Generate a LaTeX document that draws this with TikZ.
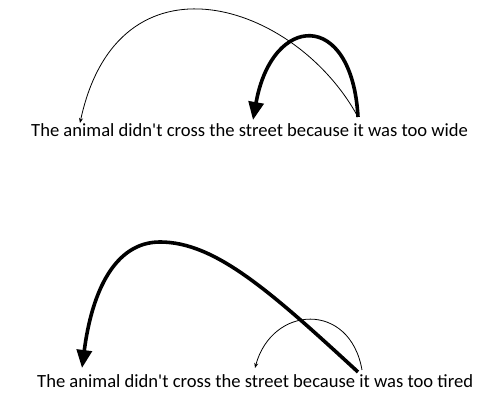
\documentclass[tikz,border=0pt]{standalone}
\usepackage{fontspec}
\setmainfont{Carlito}[Ligatures=TeXOff]
\usetikzlibrary{arrows.meta}
\begin{document}
\begin{tikzpicture}[x=1pt,y=1pt,
  sentence/.style={anchor=base west,inner sep=0pt,font=\fontsize{18.6}{21}\selectfont},
  thinarc/.style={line width=0.8pt,-{Stealth[length=5pt,width=4pt]}},
  thickarc/.style={line width=3.6pt,-{Triangle[length=18pt,width=15pt]}}]
\useasboundingbox (0,0) rectangle (480,401);
\node[sentence] (s1) at (31,264) {The animal didn't cross the street because it was too wide};
\node[sentence] (s2) at (37,13) {The animal didn't cross the street because it was too tired};
% top sentence
\coordinate (it1) at (358,284);
\coordinate (animal1) at (80,278);
\coordinate (street1) at (253,281);
\draw[thinarc] (it1) .. controls (295,400) and (118,455) .. (animal1);
\draw[thickarc] (it1) .. controls (352,392) and (272,388) .. (street1);
% bottom sentence
\coordinate (it2) at (358,29);
\coordinate (it2b) at (362,31);
\coordinate (animal2) at (82,33);
\coordinate (street2) at (255,33);
\coordinate (peak2) at (160,159);
\draw[thickarc] (it2) .. controls (270,110) and (215,159) .. (peak2) .. controls (115,159) and (92,110) .. (animal2);
\draw[thinarc] (it2b) .. controls (350,100) and (272,96) .. (street2);
\end{tikzpicture}
\end{document}
